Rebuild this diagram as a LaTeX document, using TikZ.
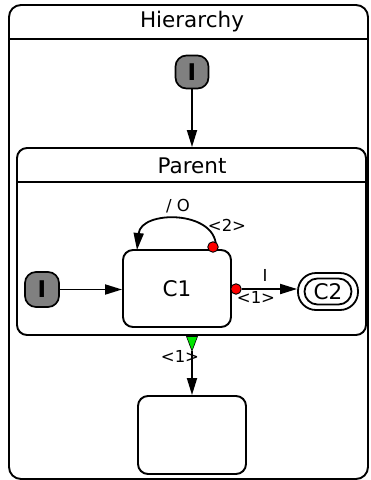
\documentclass[tikz,border=0pt]{standalone}
\usepackage{fontspec}
\setmainfont{DejaVu Sans}
\usetikzlibrary{arrows.meta}
\begin{document}
\begin{tikzpicture}[x=1pt,y=-1pt,
  box/.style={draw=black,line width=1.9pt,rounded corners=10pt},
  initst/.style={draw=black,line width=1.7pt,fill=black!50,rounded corners=11pt,minimum width=33pt,minimum height=33pt,inner sep=0pt,font=\fontsize{23}{23}\selectfont\bfseries},
  big/.style={font=\fontsize{21.5}{21.5}\selectfont,inner sep=0pt},
  small/.style={font=\fontsize{16.5}{16.5}\selectfont,inner sep=0pt},
  arr/.style={line width=1.8pt,-{Triangle[length=17pt,width=10pt]}},
  reddot/.style={circle,fill=red,draw=black,line width=0.9pt,minimum size=10.5pt,inner sep=0pt}]
\useasboundingbox (0,0) rectangle (371,480);
% outer state
\draw[box,rounded corners=12pt] (9,5) rectangle (368,479);
\draw[line width=1.9pt] (9,39) coordinate (hl) -- (368,39) coordinate (hr);
\node[big] (htitle) at (192,22) {Hierarchy};
% top initial
\node[initst] (i0) at (192,72) {I};
% parent
\node[box,minimum width=349pt,minimum height=187pt,inner sep=0pt] (parent) at (191.5,241.5) {};
\draw[line width=1.9pt] (17,182) coordinate (pl) -- (366,182) coordinate (pr);
\node[big] (ptitle) at (192,166) {Parent};
\draw[arr] (i0) -- (parent.north -| i0);
% inner initial
\node[initst,minimum width=34pt,minimum height=35pt] (i1) at (42,289.5) {I};
% C1
\node[box,minimum width=108pt,minimum height=77pt,inner sep=0pt,big] (c1) at (177,288.5) {C1};
\draw[arr] (i1) -- (c1.west |- i1);
% C2
\node[draw=black,line width=1.8pt,rounded corners=18pt,minimum width=60pt,minimum height=37pt] (c2o) at (328,291.5) {};
\node[draw=black,line width=1.8pt,rounded corners=13pt,minimum width=47pt,minimum height=26pt,big] (c2) at (328,291.5) {C2};
% C1 -> C2
\node[reddot] (d1) at (236,289) {};
\draw[arr] (d1.east) -- (c2o.west |- d1);
\node[small] (lI) at (265,275) {I};
\node[small] (l1) at (256,297) {<1>};
% self loop
\coordinate (loopend) at (137,250);
\draw[arr] (216,246) .. controls (215,210) and (141,210) .. (loopend);
\node[reddot] (d2) at (213,247) {};
\node[small] (lO) at (178,206) {/ O};
\node[small] (l2) at (227,225) {<2>};
% bottom box
\node[box,minimum width=108pt,minimum height=78pt,inner sep=0pt] (b) at (192,435) {};
% green exit
\coordinate (g1) at (186.5,336.5);
\coordinate (g2) at (197.5,336.5);
\coordinate (g3) at (192,351);
\draw[arr] (g3) -- (b.north);
\draw[fill=green!90!black,draw=black,line width=0.6pt] (g1) -- (g2) -- (g3) -- cycle;
\node[small] (l3) at (180,356) {<1>};
\end{tikzpicture}
\end{document}
